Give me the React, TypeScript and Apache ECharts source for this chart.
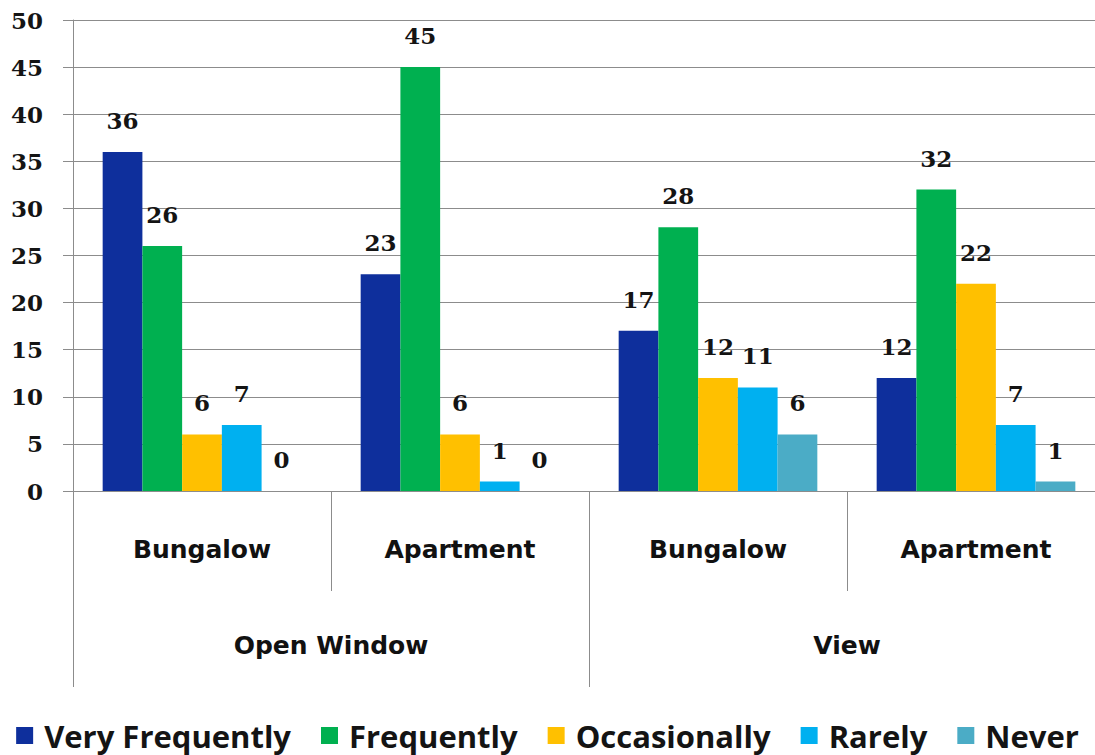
import React, { useEffect, useRef } from "react";
import * as echarts from "echarts";

// Lower-level categories (building type) and upper-level groups (behaviour)
const buildingTypes = ["Bungalow", "Apartment", "Bungalow", "Apartment"];
const behaviourGroups = ["Open Window", "View"];

// Responses per frequency level, one value per building type
const veryFrequently = [36, 23, 17, 12];
const frequently = [26, 45, 28, 32];
const occasionally = [6, 6, 12, 22];
const rarely = [7, 1, 11, 7];
const never = [0, 0, 6, 1];

const seriesNames = ["Very Frequently", "Frequently", "Occasionally", "Rarely", "Never"];
const seriesValues = [veryFrequently, frequently, occasionally, rarely, never];
const seriesColors = ["#0e2f9c", "#00b050", "#ffc000", "#00b0f0", "#4bacc6"];

// Value axis ticks
const yMin = 0;
const yMax = 50;
const yStep = 5;

const NUM_FONT = "'DejaVu Serif', serif";
const CAT_FONT = "'DejaVu Sans', sans-serif";
const LEGEND_FONT = "'Open Sans', sans-serif";
const GRID_COLOR = "#8c8c8c";

export default function App() {
  const ref = useRef<HTMLDivElement>(null);

  useEffect(() => {
    if (!ref.current) return;
    const chart = echarts.init(ref.current, null, { renderer: "svg" });

    const series = seriesNames.map((name, i) => ({
      name,
      type: "bar",
      xAxisIndex: 0,
      data: seriesValues[i],
      barGap: "0%",
      barCategoryGap: "23%",
      itemStyle: { color: seriesColors[i] },
      label: {
        show: true,
        position: "top",
        distance: 20,
        color: "#141414",
        fontFamily: NUM_FONT,
        fontWeight: "bold",
        fontSize: 23,
      },
    }));

    chart.setOption({
      animation: false,
      backgroundColor: "#ffffff",
      grid: {
        left: 73,
        right: -10,
        top: 20,
        bottom: 264,
        outerBoundsMode: "none",
      },
      legend: {
        data: seriesNames,
        left: "center",
        top: 715,
        icon: "rect",
        itemWidth: 17,
        itemHeight: 17,
        itemGap: 30,
        textStyle: {
          fontFamily: LEGEND_FONT,
          fontWeight: "bold",
          fontSize: 31,
          color: "#141414",
          padding: [0, 0, 0, 6],
        },
      },
      xAxis: [
        {
          type: "category",
          data: buildingTypes,
          position: "bottom",
          axisLine: { show: true, lineStyle: { color: GRID_COLOR, width: 1 } },
          axisTick: {
            show: true,
            interval: 0,
            length: 100,
            lineStyle: { color: GRID_COLOR, width: 1 },
          },
          axisLabel: {
            interval: 0,
            margin: 46,
            fontFamily: CAT_FONT,
            fontWeight: "bold",
            fontSize: 25,
            color: "#111111",
          },
        },
        {
          type: "category",
          data: behaviourGroups,
          position: "bottom",
          axisLine: { show: false },
          axisTick: {
            show: true,
            interval: 0,
            length: 196,
            lineStyle: { color: GRID_COLOR, width: 1 },
          },
          axisLabel: {
            interval: 0,
            margin: 142,
            fontFamily: CAT_FONT,
            fontWeight: "bold",
            fontSize: 25,
            color: "#111111",
          },
          splitLine: { show: false },
        },
      ],
      yAxis: {
        type: "value",
        min: yMin,
        max: yMax,
        interval: yStep,
        axisLine: { show: true, lineStyle: { color: GRID_COLOR, width: 1 } },
        axisTick: { show: true, length: 10, lineStyle: { color: GRID_COLOR, width: 1 } },
        splitLine: { show: true, lineStyle: { color: GRID_COLOR, width: 1 } },
        axisLabel: {
          margin: 30,
          fontFamily: NUM_FONT,
          fontWeight: "bold",
          fontSize: 23,
          color: "#141414",
        },
      },
      series,
    });

    return () => chart.dispose();
  }, []);

  return (
    <div
      ref={ref}
      style={{ position: "fixed", left: 0, top: 0, width: 1095, height: 755, background: "#fff" }}
    />
  );
}
